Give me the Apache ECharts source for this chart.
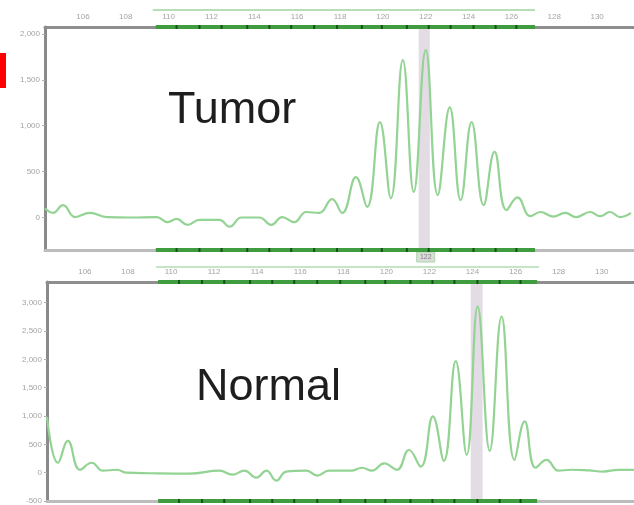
<!DOCTYPE html>
<html><head><meta charset="utf-8">
<script src="https://cdn.jsdelivr.net/npm/echarts@6/dist/echarts.min.js"></script>
<style>html,body{margin:0;padding:0;background:#fff;overflow:hidden}#c{width:634px;height:505px}</style>
</head><body><div id="c"></div>
<script>
// ---- data ----
const xTickLabels = [106,108,110,112,114,116,118,120,122,124,126,128,130];
const tumorYTicks = [0,500,1000,1500,2000];
const normalYTicks = [-500,0,500,1000,1500,2000,2500,3000];

const tumorBp  = [104.23,104.6,105.07,105.63,106.33,107.12,108.19,109.44,109.95,110.37,110.88,111.44,112.37,112.84,113.4,114.23,114.79,115.3,115.86,116.42,117.02,117.63,118.1,118.74,119.26,119.86,120.37,120.93,121.44,122.0,122.56,123.12,123.63,124.14,124.7,125.21,125.77,126.28,126.88,127.35,127.95,128.51,129.02,129.67,130.14,130.6,131.07,131.58];
const tumorRfu = [100,50,135,5,50,5,0,5,-50,-15,-80,-25,-25,-100,0,0,-80,5,-50,60,50,200,50,440,115,1040,210,1715,280,1825,245,1200,190,1040,135,715,80,220,15,60,10,50,5,60,15,60,5,50];

const normalBp  = [104.24,104.75,105.21,105.77,106.32,106.83,107.48,107.94,109.0,110.86,112.25,112.85,113.41,113.96,114.43,114.89,115.35,116.28,116.79,117.34,118.36,118.87,119.33,119.9,120.49,121.05,121.6,122.16,122.67,123.22,123.73,124.24,124.8,125.35,125.95,126.42,126.93,127.44,127.99,128.59,129.4,130.07,130.77,131.5];
const normalRfu = [980,175,560,52,175,35,52,0,-10,-17,35,-35,35,-87,35,-140,17,35,-52,35,35,87,35,165,52,400,105,995,210,1970,315,2930,385,2755,225,905,87,225,35,52,40,20,50,50];

const tumorBin  = [109.4, 127.1];
const normalBin = [109.4, 127.0];
const binMarksBp = [110.37,111.44,112.47,113.67,114.7,115.72,116.79,117.86,119.02,119.95,121.12,122.14,123.16,124.23,125.26,126.23];
const tumorCall = 122;
const tumorBand  = [121.67, 122.19];
const normalBand = [123.92, 124.47];

// ---- axis ranges (fitted to the reference frame) ----
const T = {xmin:104.23, xmax:131.72, ymin:-354, ymax:2076};
const N = {xmin:104.24, xmax:131.5,  ymin:-500, ymax:3366};

const fmt = v => Number(v).toLocaleString('en-US');
const pairs = (a,b) => a.map((x,i)=>[x,b[i]]);
const labelStyle = {color:'#a4a4a4', fontSize:8, fontFamily:'Liberation Sans, Arial, sans-serif'};

function xAxes(g, R){
  return [
    {gridIndex:g, type:'value', position:'top', min:R.xmin, max:R.xmax,
     axisLine:{show:true,onZero:false,lineStyle:{color:'#8e8e8e',width:3}},
     axisTick:{show:false}, splitLine:{show:false},
     axisLabel:Object.assign({customValues:xTickLabels, margin:6}, labelStyle)},
    {gridIndex:g, type:'value', position:'bottom', min:R.xmin, max:R.xmax,
     axisLine:{show:true,onZero:false,lineStyle:{color:'#bcbcbc',width:3}},
     axisTick:{show:false}, splitLine:{show:false}, axisLabel:{show:false}}
  ];
}
function yAxis(g, R, ticks){
  return {gridIndex:g, type:'value', min:R.ymin, max:R.ymax,
    axisLine:{show:true,onZero:false,lineStyle:{color:'#8a8a8a',width:3}},
    axisTick:{show:true,customValues:ticks,length:3,lineStyle:{color:'#b0b0b0'}},
    splitLine:{show:false},
    axisLabel:Object.assign({customValues:ticks, formatter:fmt, margin:5}, labelStyle)};
}
function binSeries(xi, yi, bin, y){
  return [
    {type:'line', xAxisIndex:xi, yAxisIndex:yi, data:[[bin[0],y],[bin[1],y]], symbol:'none', clip:false, silent:true, z:5,
     lineStyle:{color:'#3f9c3f',width:4}},
    {type:'scatter', xAxisIndex:xi, yAxisIndex:yi, data:binMarksBp.map(b=>[b,y]), symbol:'rect', symbolSize:[2,4], clip:false, silent:true, z:6,
     itemStyle:{color:'#0f3f0f'}}
  ];
}
function trace(xi, yi, bp, rfu, band){
  return {type:'line', xAxisIndex:xi, yAxisIndex:yi, data:pairs(bp,rfu), smooth:0.45, symbol:'none', z:3,
    lineStyle:{color:'#93d393',width:2.2},
    markArea:{silent:true, itemStyle:{color:'rgba(222,214,224,0.85)'}, data:[[{xAxis:band[0]},{xAxis:band[1]}]]}};
}

const chart = echarts.init(document.getElementById('c'), null, {renderer:'canvas'});
chart.setOption({
  backgroundColor:'#ffffff',
  animation:false,
  grid:[
    {left:45, top:27, width:591, height:223},
    {left:47, top:282, width:589, height:222}
  ],
  xAxis:[...xAxes(0,T), ...xAxes(1,N)],
  yAxis:[yAxis(0,T,tumorYTicks), yAxis(1,N,normalYTicks)],
  series:[
    trace(0,0,tumorBp,tumorRfu,tumorBand),
    trace(2,1,normalBp,normalRfu,normalBand),
    ...binSeries(0,0,tumorBin,T.ymax),
    ...binSeries(0,0,tumorBin,T.ymin),
    ...binSeries(2,1,normalBin,N.ymax),
    ...binSeries(2,1,normalBin,N.ymin)
  ]
});

// decorations positioned through the axes
const px = (g, x) => chart.convertToPixel({gridIndex:g}, [x, 0])[0];
const callX = px(0, tumorCall);
chart.setOption({graphic:[
  {type:'rect', shape:{x:0,y:53,width:6,height:35}, style:{fill:'#ff0000'}},
  {type:'line', shape:{x1:px(0,tumorBin[0])-3,y1:10,x2:px(0,tumorBin[1]),y2:10}, style:{stroke:'#b5dfb5',lineWidth:2}},
  {type:'line', shape:{x1:px(1,normalBin[0])-2,y1:267,x2:px(1,normalBin[1])+2,y2:267}, style:{stroke:'#c4e6c4',lineWidth:2}},
  {type:'rect', shape:{x:callX-9,y:252,width:18,height:10}, style:{fill:'#dcdcdc',stroke:'#a8d8a8',lineWidth:1}},
  {type:'text', x:callX, y:257, style:{text:String(tumorCall), fill:'#808080', font:'7px "Liberation Sans"', align:'center', verticalAlign:'middle'}},
  {type:'text', x:168, y:111, style:{text:'Tumor', fill:'#1e1e1e', font:'45px "Liberation Sans", Arial, sans-serif', verticalAlign:'middle'}},
  {type:'text', x:196, y:388, style:{text:'Normal', fill:'#1e1e1e', font:'45px "Liberation Sans", Arial, sans-serif', verticalAlign:'middle'}}
]});
</script>
</body></html>
